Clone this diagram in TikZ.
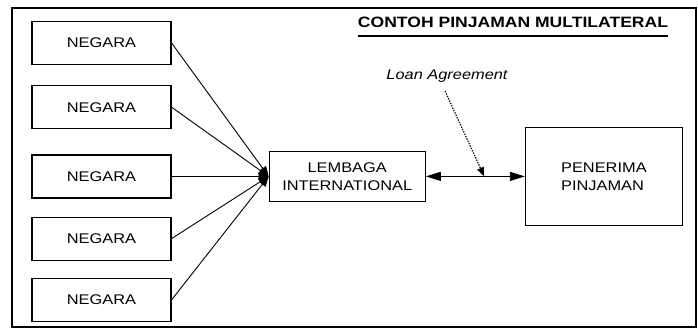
\documentclass[tikz,border=0pt]{standalone}
\usepackage{fontspec}
\setmainfont[FakeStretch=1.17]{Liberation Sans}
\usetikzlibrary{positioning,calc,arrows.meta}

\begin{document}
\begin{tikzpicture}[x=1pt, y=-1pt,
				block/.style={rectangle, draw=black!100, line width=1.2pt, minimum width=139pt, minimum height=43pt, font=\fontsize{14}{18}\selectfont},
				bigblock/.style={rectangle, draw=black!100, line width=1.2pt, inner sep=0pt, font=\fontsize{14}{18}\selectfont},
				label/.style={rectangle, inner sep=0pt}
			]
			\useasboundingbox (0,0) rectangle (698,329);
			\draw[line width=2.2pt] (12,8) rectangle (696,327);
			\node[label, anchor=base, font=\bfseries\fontsize{15}{18}\selectfont] (title) at (513,28) {CONTOH PINJAMAN MULTILATERAL};
			\draw[line width=1.5pt] ($(title.base west)+(0,8)$) -- ($(title.base east)+(0,8)$);
			\node[block] (negone) at (101.5,43) {NEGARA};
			\node[block] (negtwo) [below=20pt of negone] {NEGARA};
			\node[block] (negthree) [below=25pt of negtwo] {NEGARA};
			\node[block] (negfour) [below=18pt of negthree] {NEGARA};
			\node[block] (negfive) [below=17pt of negfour] {NEGARA};
			\node[bigblock] (lembaga) [right=97pt of negthree, minimum width=156pt, minimum height=50pt, align=center] {LEMBAGA\\INTERNATIONAL};
			\node[bigblock] (penerima) [right=99pt of lembaga, minimum width=157pt, minimum height=98pt, align=left] {PENERIMA\\PINJAMAN};
			\node[label, anchor=base, font=\itshape\fontsize{14}{18}\selectfont] (loan) at (447,79) {Loan Agreement};
			\coordinate (loanstart) at ($(loan.south)+(-2,9)$);
			\coordinate (loanpoint) at ($(lembaga.east)!0.59!(penerima.west)$);
			\draw[line width=1.2pt, dash pattern=on 1.3pt off 1.3pt, -{Triangle[length=9pt, width=7pt]}] (loanstart) -- (loanpoint);
			\begin{scope}[line width=0.9pt, -{Triangle[length=10pt, width=8pt]}]
			\draw (negone.east) -- (lembaga.west);
			\draw (negtwo.east) -- (lembaga.west);
			\draw (negthree.east) -- (lembaga.west);
			\draw (negfour.east) -- (lembaga.west);
			\draw (negfive.east) -- (lembaga.west);
			\draw[{Triangle[length=15pt, width=9pt]}-{Triangle[length=15pt, width=9pt]}] (lembaga.east) -- (penerima.west);
			\end{scope}
			\end{tikzpicture}
\end{document}
